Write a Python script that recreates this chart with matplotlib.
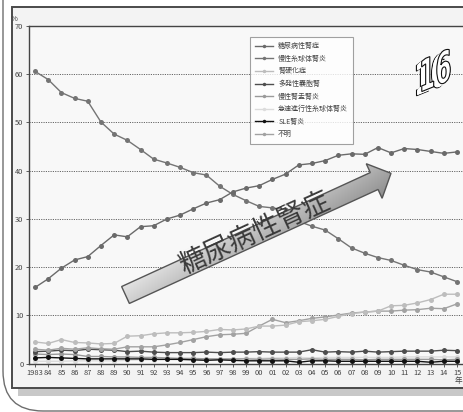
import numpy as np
import matplotlib
matplotlib.use('Agg')
import matplotlib.pyplot as plt
from matplotlib.patches import Rectangle, FancyBboxPatch, Polygon, PathPatch
from matplotlib.lines import Line2D
from matplotlib.textpath import TextPath
from matplotlib.transforms import Affine2D
from matplotlib.font_manager import FontProperties

plt.rcParams['font.family'] = ['Noto Sans CJK JP', 'DejaVu Sans']

years = list(range(1983, 2016))
year_labels = ['1983'] + [f'{y % 100:02d}' for y in years[1:]]
y_ticks = [0, 10, 20, 30, 40, 50, 60, 70]

series_names = ['糖尿病性腎症', '慢性糸球体腎炎', '腎硬化症', '多発性嚢胞腎',
                '慢性腎盂腎炎', '急速進行性糸球体腎炎', 'SLE腎炎', '不明']

diabetic = [15.8, 17.6, 19.8, 21.5, 22.2, 24.5, 26.7, 26.3, 28.4, 28.6, 30.0,
            30.8, 32.1, 33.3, 34.0, 35.6, 36.4, 36.9, 38.2, 39.3, 41.2, 41.5,
            42.1, 43.2, 43.5, 43.4, 44.8, 43.7, 44.6, 44.4, 44.0, 43.6, 43.9]
glomerulonephritis = [60.6, 58.9, 56.2, 55.0, 54.4, 50.1, 47.6, 46.3, 44.4, 42.4,
                      41.6, 40.7, 39.6, 39.1, 36.8, 35.1, 33.8, 32.6, 32.3, 31.9,
                      29.5, 28.5, 27.7, 25.9, 24.0, 22.9, 22.0, 21.4, 20.4, 19.5,
                      19.0, 18.0, 17.0]
nephrosclerosis = [4.5, 4.2, 5.0, 4.4, 4.3, 4.1, 4.2, 5.7, 5.8, 6.2, 6.4, 6.4,
                   6.5, 6.7, 7.1, 7.0, 7.2, 7.8, 7.8, 8.0, 8.7, 8.9, 9.2, 9.8,
                   10.4, 10.7, 10.9, 12.0, 12.1, 12.6, 13.3, 14.4, 14.4]
polycystic = [2.5, 2.6, 2.8, 2.7, 3.0, 2.9, 2.8, 2.5, 2.6, 2.4, 2.3, 2.3, 2.3,
              2.4, 2.3, 2.4, 2.4, 2.5, 2.4, 2.4, 2.4, 2.9, 2.4, 2.5, 2.4, 2.6,
              2.4, 2.5, 2.6, 2.6, 2.6, 2.8, 2.7]
pyelonephritis = [2.0, 1.9, 2.0, 1.9, 1.5, 1.5, 1.4, 1.4, 1.3, 1.3, 1.2, 1.1,
                  1.1, 1.0, 1.0, 1.0, 1.0, 0.9, 1.0, 0.9, 0.9, 1.0, 0.9, 0.9,
                  0.9, 0.8, 0.9, 0.9, 0.9, 0.9, 0.9, 0.8, 0.9]
rpgn = [0.5, 0.5, 0.5, 0.6, 0.6, 0.6, 0.6, 0.7, 0.8, 0.8, 0.9, 0.9, 0.9, 1.0,
        1.0, 1.0, 1.1, 1.1, 1.2, 1.2, 1.3, 1.2, 1.3, 1.3, 1.3, 1.3, 1.3, 1.3,
        1.4, 1.4, 1.4, 1.4, 1.4]
sle = [1.2, 1.3, 1.2, 1.1, 1.0, 1.0, 1.0, 1.0, 1.0, 0.9, 0.9, 0.9, 0.8, 0.7,
       0.8, 0.7, 0.6, 0.6, 0.6, 0.6, 0.3, 0.6, 0.6, 0.5, 0.5, 0.5, 0.5, 0.5,
       0.5, 0.5, 0.3, 0.5, 0.5]
unknown = [3.0, 2.8, 3.2, 3.0, 3.3, 3.1, 3.0, 3.5, 3.5, 3.5, 3.9, 4.4, 5.0,
           5.6, 6.0, 6.1, 6.3, 7.8, 9.2, 8.5, 8.9, 9.4, 9.7, 10.1, 10.5, 10.7,
           10.9, 10.9, 11.1, 11.2, 11.5, 11.4, 12.4]

all_series = [diabetic, glomerulonephritis, nephrosclerosis, polycystic,
              pyelonephritis, rpgn, sle, unknown]
colors = ['#6a6a6a', '#747474', '#bdbdbd', '#4e4e4e',
          '#9a9a9a', '#dcdcdc', '#111111', '#a2a2a2']
draw_order = [5, 4, 6, 3, 7, 2, 1, 0]

W, H = 463, 412
fig = plt.figure(figsize=(W / 100, H / 100), dpi=100)
fig.patch.set_facecolor('white')

# background layer in pixel coordinates
bg = fig.add_axes([0, 0, 1, 1], zorder=0)
bg.set_xlim(0, W)
bg.set_ylim(H, 0)
bg.axis('off')
bg.add_patch(FancyBboxPatch((3, -80), 540, 491,
                            boxstyle='round,pad=0,rounding_size=40',
                            fc='none', ec='#6e6e6e', lw=1.0))
bg.add_patch(Rectangle((18, 388), 470, 8, fc='#c8c8c8', ec='none'))
bg.add_patch(Rectangle((12, 7), 480, 381, fc='#f3f3f3', ec='#4a4a4a', lw=1.4))
bg.text(14, 19, '%', fontsize=5.5, color='#444444', ha='center', va='center')

# main plot
x0, y0, y1 = 29, 26, 363.7
ax = fig.add_axes([x0 / W, (H - y1) / H, (W - x0) / W, (y1 - y0) / H], zorder=1)
ax.set_facecolor('#f8f8f8')
px_per_year = (457 - 35) / 32
ax.set_xlim(1983 - (35 - x0) / px_per_year, 1983 + (W - 35) / px_per_year)
ax.set_ylim(0, 70)

for rank, i in enumerate(draw_order):
    ax.plot(years, all_series[i], color=colors[i], lw=1.0, marker='o',
            markersize=3.6, markeredgewidth=0, zorder=2 + rank * 0.01)

ax.set_yticks(y_ticks)
ax.set_yticklabels([str(v) for v in y_ticks])
ax.set_xticks(years)
ax.set_xticklabels(year_labels)
ax.tick_params(axis='both', labelsize=5.4, colors='#444444', length=2.5,
               width=0.6, pad=1.5)
for v in y_ticks[1:-1]:
    ax.axhline(v, color='#666666', lw=0.7, ls=(0, (1.2, 1.2)), zorder=1)
for s in ['left', 'bottom', 'top']:
    ax.spines[s].set_color('#444444')
    ax.spines[s].set_linewidth(1.0)
ax.spines['right'].set_visible(False)

handles = [Line2D([0], [0], color=colors[i], lw=1.0, marker='o', markersize=2.5,
                  markeredgewidth=0) for i in range(8)]
leg = ax.legend(handles, series_names, loc='upper left',
                bbox_to_anchor=(250 / W, 1 - 37 / H), bbox_transform=fig.transFigure,
                fontsize=5.0, frameon=True, fancybox=False, handlelength=2.5,
                handletextpad=0.8, labelspacing=0.66, borderpad=0.75,
                borderaxespad=0)
leg.get_frame().set_edgecolor('#8a8a8a')
leg.get_frame().set_facecolor('white')
leg.get_frame().set_linewidth(0.8)
for t in leg.get_texts():
    t.set_color('#444444')

# foreground layer: arrow and caption
fg = fig.add_axes([0, 0, 1, 1], zorder=3)
fg.set_xlim(0, W)
fg.set_ylim(H, 0)
fg.axis('off')
fg.patch.set_alpha(0)

fg.text(458, 381, '年', fontsize=5.5, color='#444444', ha='center', va='center')

T = np.array([125.5, 295.0])
tip = np.array([391.0, 173.3])
u = (tip - T) / np.linalg.norm(tip - T)
n = np.array([-u[1], u[0]])
if n[1] < 0:
    n = -n
total = np.linalg.norm(tip - T)
head_len, half_shaft, half_head = 18.5, 9.3, 19.0
B = T + (total - head_len) * u
pts = np.array([T - half_shaft * n, B - half_shaft * n, B - half_head * n, tip,
                B + half_head * n, B + half_shaft * n, T + half_shaft * n])
arrow = Polygon(pts, closed=True, fc='none', ec='#555555', lw=1.0, zorder=5)
fg.add_patch(arrow)
xa0, xa1 = pts[:, 0].min() - 2, pts[:, 0].max() + 2
ya0, ya1 = pts[:, 1].min() - 2, pts[:, 1].max() + 2
gx, gy = np.meshgrid(np.linspace(xa0, xa1, 300), np.linspace(ya0, ya1, 150))
rel_x, rel_y = gx - T[0], gy - T[1]
along = (rel_x * u[0] + rel_y * u[1]) / total
across = (rel_x * n[0] + rel_y * n[1]) / half_head
shade = 0.94 - 0.18 * np.clip((across + 1) / 2, 0, 1) - 0.22 * np.clip(along, 0, 1)
img = fg.imshow(np.dstack([shade, shade, shade]), extent=(xa0, xa1, ya1, ya0),
                origin='upper', zorder=4, interpolation='bilinear')
img.set_clip_path(arrow)
fg.set_xlim(0, W)
fg.set_ylim(H, 0)

ang = np.degrees(np.arctan2(-(tip - T)[1], (tip - T)[0]))
fg.text(255, 234, '糖尿病性腎症', fontsize=19.5, color='#3a3a3a', rotation=ang,
        rotation_mode='anchor', ha='center', va='center', zorder=6)

# extruded "16" emblem (y-up pixel coordinates)
lg = fig.add_axes([0, 0, 1, 1], zorder=4)
lg.set_xlim(0, W)
lg.set_ylim(0, H)
lg.axis('off')
lg.patch.set_alpha(0)
glyph = TextPath((0, 0), '16', size=30,
                 prop=FontProperties(family='DejaVu Sans', weight='bold'))
ext = glyph.get_extents()
shape = (Affine2D().translate(-(ext.x0 + ext.width / 2), -(ext.y0 + ext.height / 2))
         .scale(0.78, 1.45).skew_deg(0, 22))
depth = 7
for k in range(depth, -1, -1):
    tr = shape + Affine2D().translate(436 - k * 0.75, H - 70 - k * 0.6)
    edge = '#111111' if k in (0, depth) else 'none'
    lg.add_patch(PathPatch(tr.transform_path(glyph), fc='white', ec=edge,
                           lw=0.8, zorder=5))

fig.savefig('out.png', dpi=100, facecolor='white')
